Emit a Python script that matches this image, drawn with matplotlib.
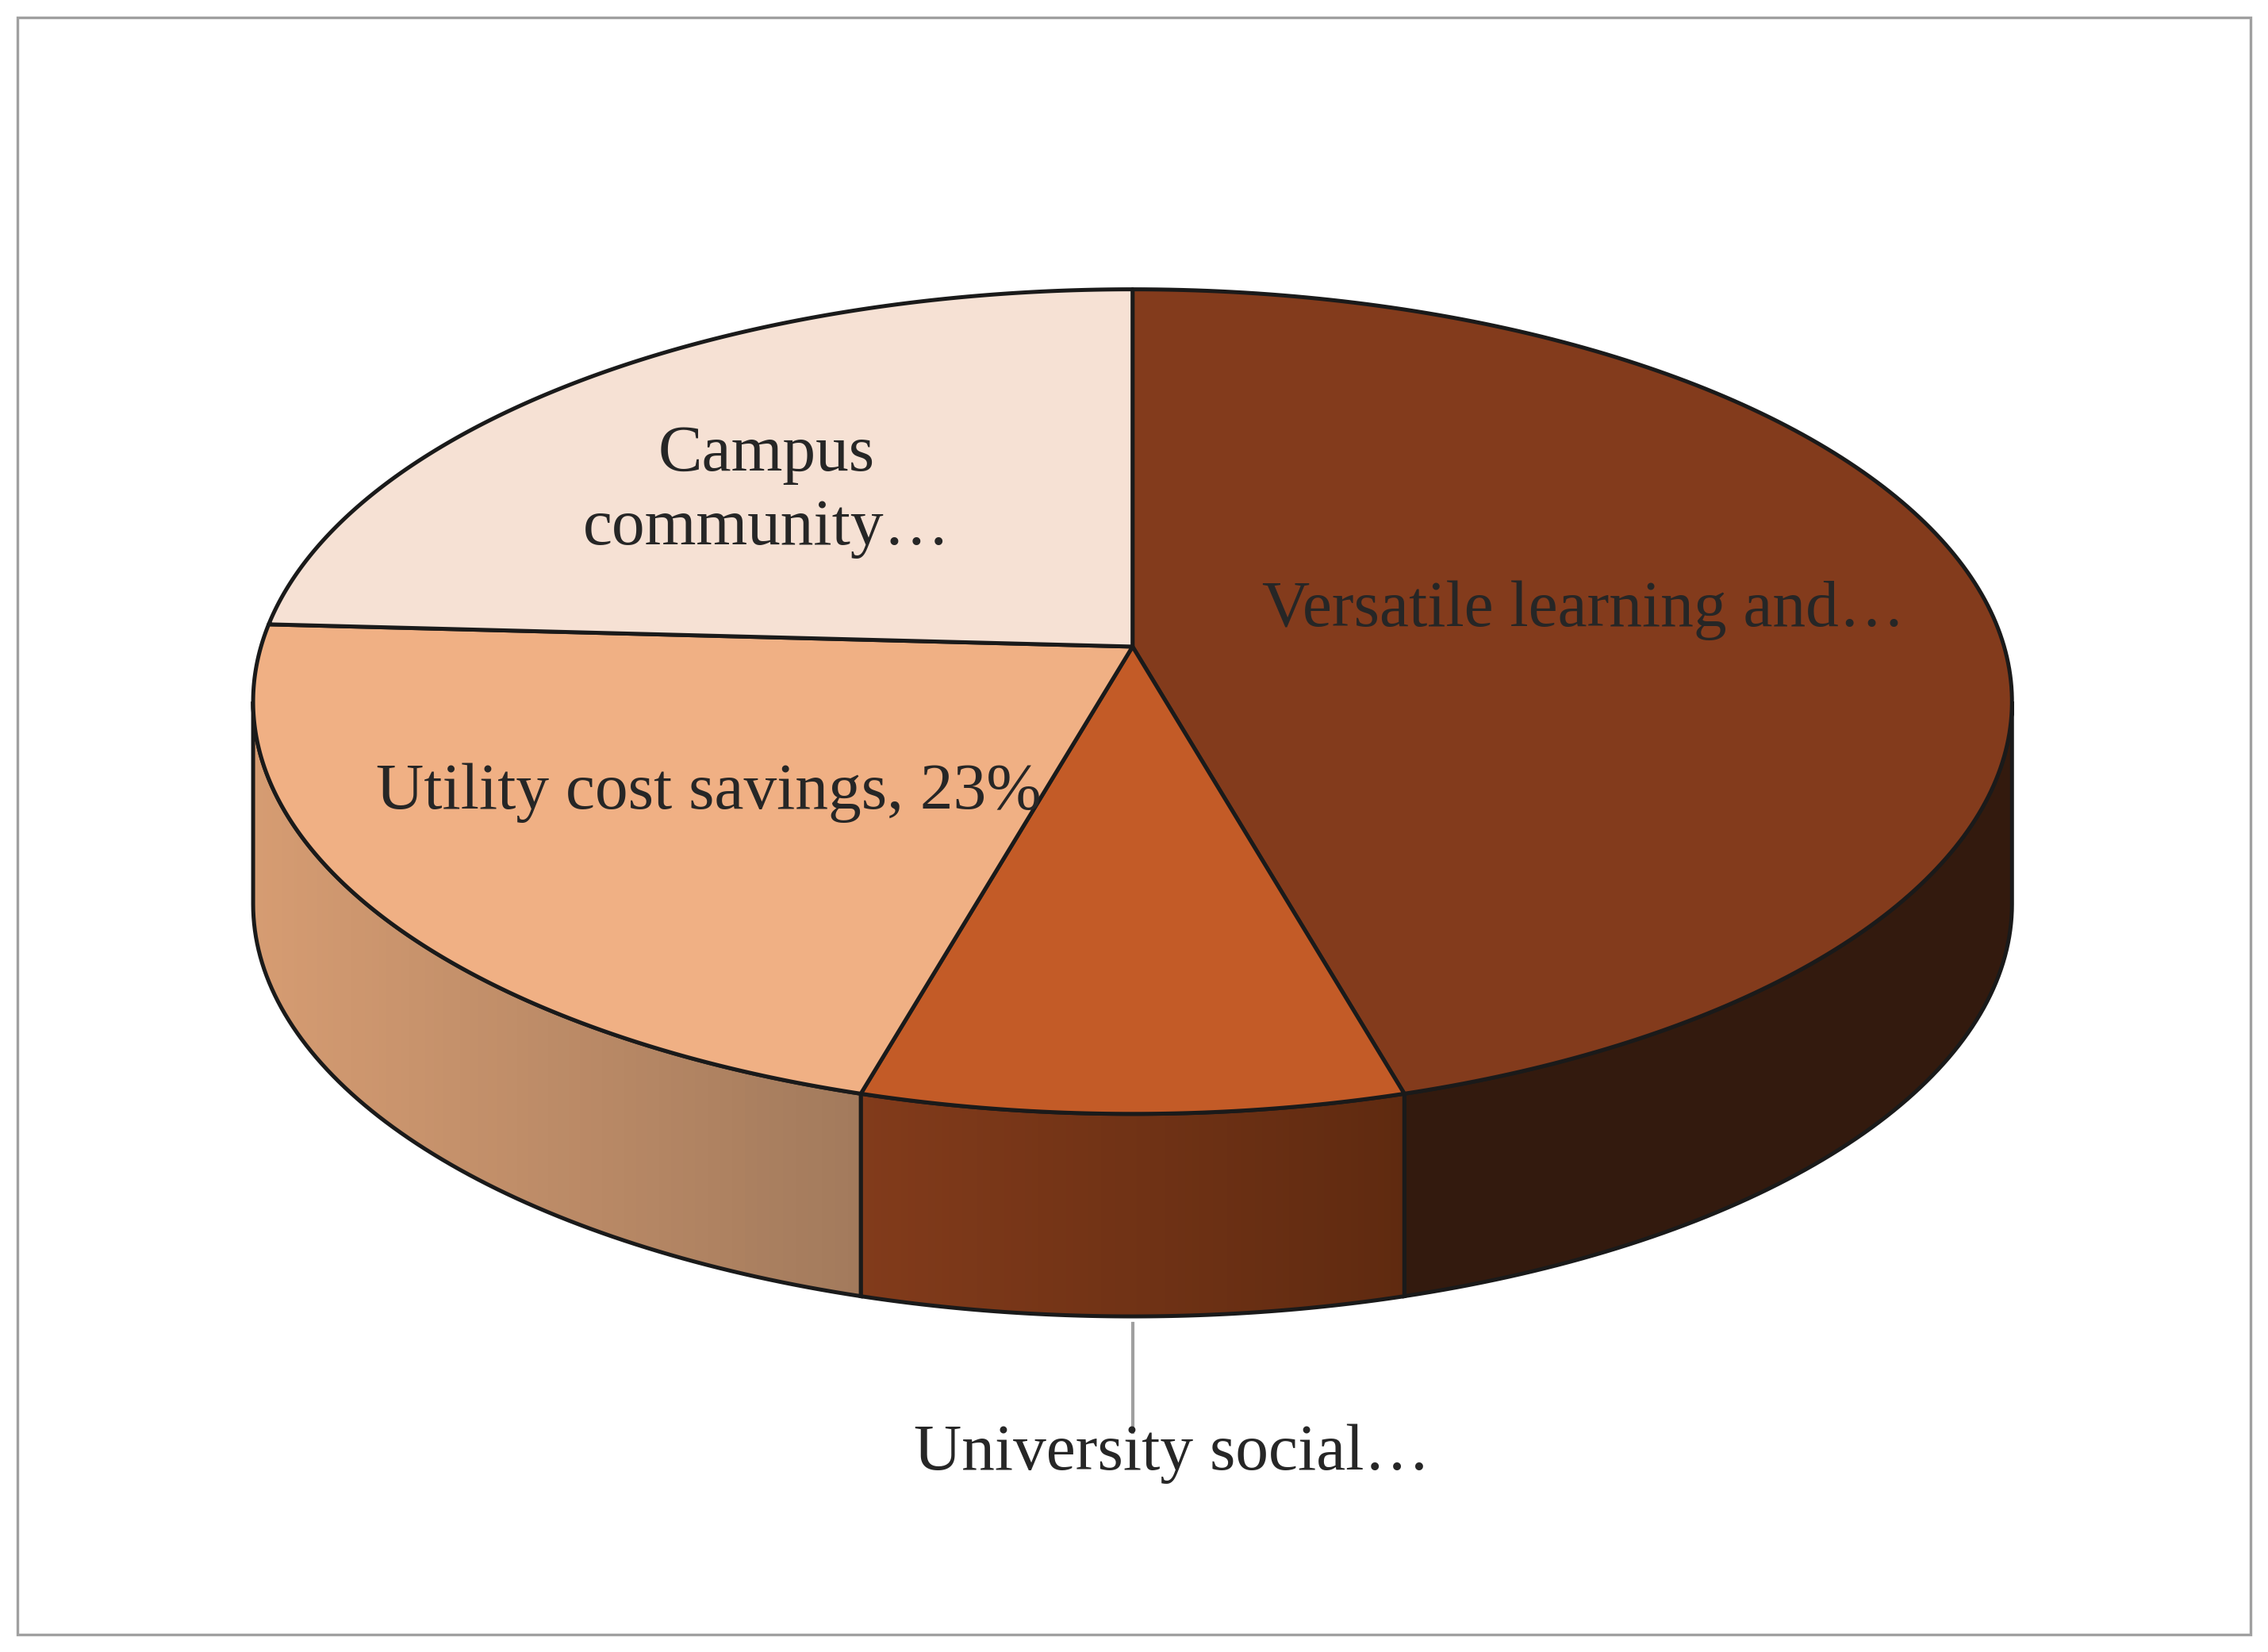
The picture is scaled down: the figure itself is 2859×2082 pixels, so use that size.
import numpy as np
import matplotlib
matplotlib.use("Agg")
import matplotlib.pyplot as plt
from matplotlib.patches import Polygon, Rectangle
from matplotlib.colors import to_rgb

labels = ["Versatile learning and…", "University social…", "Utility cost savings, 23%", "Campus\ncommunity…"]
values = [45, 10, 23, 22]
top_colors = ["#833b1c", "#c35b27", "#f0b084", "#f6e1d4"]
side_left = ["#3a1c0f", "#823b1b", "#d69c72", "#f6e1d4"]
side_right = ["#331a0e", "#5f2a10", "#a27a5c", "#f6e1d4"]

W, H = 1568, 1142
fig = plt.figure(figsize=(14.295, 10.41), dpi=200)
ax = fig.add_axes([0, 0, 1, 1])
ax.set_xlim(0, W); ax.set_ylim(H, 0); ax.axis("off")
ax.add_patch(Rectangle((12, 12), W - 24, H - 24, fill=False, ec="#a0a0a0", lw=1.2))

cx, cy, rx, ry, depth = 783, 485, 608, 285, 140
apex = (783, 447)

def pt(t, d=0):
    r = np.radians(t)
    return cx + rx * np.sin(r), cy - ry * np.cos(r) + d

bounds = np.concatenate([[0], np.cumsum(values) / sum(values) * 360])

# sides
for i in range(len(values)):
    a0, a1 = max(bounds[i], 90), min(bounds[i + 1], 270)
    if a1 <= a0:
        continue
    ts = np.linspace(a0, a1, 80)
    c0, c1 = np.array(to_rgb(side_left[i])), np.array(to_rgb(side_right[i]))
    xs_all = [pt(t)[0] for t in ts]
    xmin, xmax = min(xs_all), max(xs_all)
    for j in range(len(ts) - 1):
        p1, p2 = pt(ts[j]), pt(ts[j + 1])
        f = ((p1[0] + p2[0]) / 2 - xmin) / max(xmax - xmin, 1)
        col = c0 * (1 - f) + c1 * f if i != 0 else c1
        ax.add_patch(Polygon([p1, p2, (p2[0], p2[1] + depth), (p1[0], p1[1] + depth)],
                             closed=True, fc=col, ec=col, lw=0.6))
    top = [pt(t) for t in ts]
    bot = [pt(t, depth) for t in ts[::-1]]
    ax.add_patch(Polygon(top + bot, closed=True, fill=False, ec="#1a1a1a", lw=1.8))

# top faces
for i in range(len(values)):
    ts = np.linspace(bounds[i], bounds[i + 1], 200)
    poly = [apex] + [pt(t) for t in ts]
    ax.add_patch(Polygon(poly, closed=True, fc=top_colors[i], ec="#1a1a1a", lw=1.8, joinstyle="round"))

font = dict(family="Liberation Serif", fontsize=30, color="#262626", ha="center", va="center")
ax.text(1095, 422, labels[0], **font)
ax.text(530, 340, labels[3], linespacing=1.3, **font)
ax.text(490, 548, labels[2], **font)
ax.plot([783, 783], [915, 990], color="#a0a0a0", lw=1.5)
ax.text(810, 1005, labels[1], **font)

fig.savefig("out.png", dpi=200)
